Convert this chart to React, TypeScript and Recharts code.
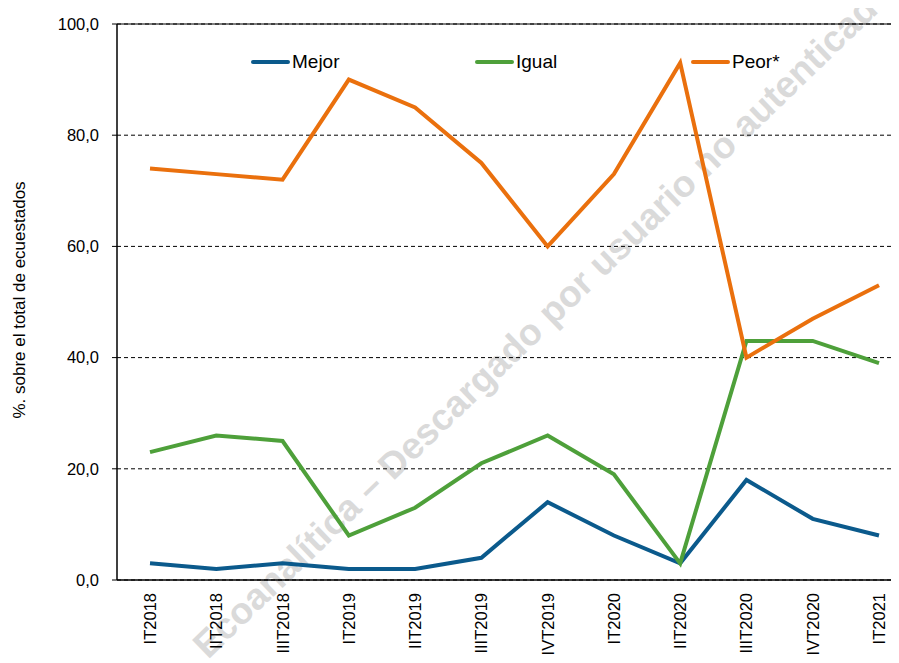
import React from "react";
import {
  LineChart,
  Line,
  XAxis,
  YAxis,
  CartesianGrid,
  ReferenceLine,
  Label,
} from "recharts";

const categories = [
  "IT2018",
  "IIT2018",
  "IIIT2018",
  "IT2019",
  "IIT2019",
  "IIIT2019",
  "IVT2019",
  "IT2020",
  "IIT2020",
  "IIIT2020",
  "IVT2020",
  "IT2021",
];
const mejor = [3, 2, 3, 2, 2, 4, 14, 8, 3, 18, 11, 8];
const igual = [23, 26, 25, 8, 13, 21, 26, 19, 3, 43, 43, 39];
const peor = [74, 73, 72, 90, 85, 75, 60, 73, 93, 40, 47, 53];
const yTicks = [0, 20, 40, 60, 80, 100];

const seriesNames = ["Mejor", "Igual", "Peor*"];
const seriesColors = ["#0B5A8C", "#4EA03A", "#EA700D"];
const yLabel = "%. sobre el total de ecuestados";
const watermark = "Ecoanalítica – Descargado por usuario no autenticado";

const data = categories.map((c, i) => ({
  cat: c,
  mejor: mejor[i],
  igual: igual[i],
  peor: peor[i],
}));

const FONT = "'Liberation Sans', Arial, sans-serif";

const XTick = (props: any) => {
  const { x, y, payload } = props;
  return (
    <text
      x={x}
      y={y}
      transform={`rotate(-90 ${x} ${y})`}
      textAnchor="end"
      dominantBaseline="central"
      fontFamily={FONT}
      fontSize={16.5}
      fill="#000"
    >
      {payload.value}
    </text>
  );
};

const legendOffsets = [243, 467, 683];

const LegendOverlay = () => (
  <div
    style={{
      position: "absolute",
      left: 0,
      top: 43,
      height: 22,
      width: 900,
      pointerEvents: "none",
    }}
  >
    {seriesNames.map((n, i) => (
      <div
        key={n}
        style={{
          position: "absolute",
          left: legendOffsets[i],
          top: 0,
          height: 22,
          display: "flex",
          alignItems: "center",
          fontFamily: FONT,
          fontSize: 19,
          color: "#000",
          whiteSpace: "nowrap",
        }}
      >
        <span
          style={{
            display: "inline-block",
            width: 39,
            height: 4,
            borderRadius: 2,
            background: seriesColors[i],
            marginRight: 2,
          }}
        />
        <span>{n}</span>
      </div>
    ))}
  </div>
);

export default function App() {
  return (
    <div style={{ position: "relative", width: 920, height: 700 }}>
      <svg
        width={920}
        height={700}
        style={{ position: "absolute", left: 0, top: 0 }}
      >
        <text
          x={200}
          y={652}
          transform="rotate(-44 200 652)"
          fontFamily={FONT}
          fontWeight="bold"
          fontSize={37}
          fill="#DADADA"
        >
          {watermark}
        </text>
      </svg>
      <div style={{ position: "absolute", left: 0, top: 0 }}>
        <LineChart
          width={920}
          height={700}
          data={data}
          margin={{ top: 16, right: 16, bottom: 28, left: 0 }}
        >
          <CartesianGrid
            horizontal={true}
            vertical={false}
            stroke="#000"
            strokeDasharray="4 3"
          />
          <ReferenceLine y={100} stroke="#000" strokeWidth={1} />
          <XAxis
            dataKey="cat"
            interval={0}
            padding={{ left: 33, right: 33 }}
            tickLine={false}
            tickSize={0}
            tickMargin={13}
            height={100}
            axisLine={{ stroke: "#000", strokeWidth: 1.5 }}
            tick={<XTick />}
          />
          <YAxis
            domain={[0, 100]}
            ticks={yTicks}
            width={109}
            tickSize={5}
            tickMargin={13}
            tickLine={{ stroke: "#000" }}
            axisLine={{ stroke: "#000", strokeWidth: 1.5 }}
            tickFormatter={(v: number) => v.toFixed(1).replace(".", ",")}
            tick={{ fontFamily: FONT, fontSize: 16.5, fill: "#000" }}
          >
            <Label
              content={(p: any) => {
                const vb = p.viewBox || {};
                const cx = (vb.x || 0) + 11;
                const cy = (vb.y || 0) + (vb.height || 0) / 2 - 2;
                return (
                  <text
                    x={cx}
                    y={cy}
                    transform={`rotate(-90 ${cx} ${cy})`}
                    textAnchor="middle"
                    dominantBaseline="central"
                    fontFamily={FONT}
                    fontSize={17}
                    fill="#000"
                  >
                    {yLabel}
                  </text>
                );
              }}
            />
          </YAxis>
          <Line
            type="linear"
            dataKey="mejor"
            name={seriesNames[0]}
            stroke={seriesColors[0]}
            strokeWidth={4}
            dot={false}
            activeDot={false}
            isAnimationActive={false}
          />
          <Line
            type="linear"
            dataKey="igual"
            name={seriesNames[1]}
            stroke={seriesColors[1]}
            strokeWidth={4}
            dot={false}
            activeDot={false}
            isAnimationActive={false}
          />
          <Line
            type="linear"
            dataKey="peor"
            name={seriesNames[2]}
            stroke={seriesColors[2]}
            strokeWidth={4}
            dot={false}
            activeDot={false}
            isAnimationActive={false}
          />
        </LineChart>
      </div>
      <LegendOverlay />
    </div>
  );
}
